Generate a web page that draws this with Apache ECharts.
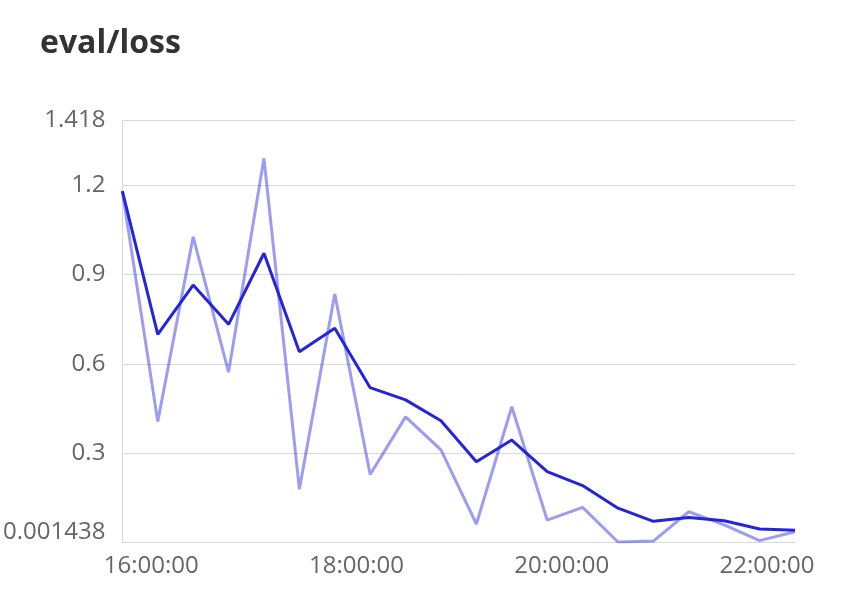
<!DOCTYPE html>
<html>
<head>
<meta charset="utf-8">
<style>
  html, body { margin: 0; padding: 0; background: #fff; }
  #chart { width: 856px; height: 602px; }
</style>
<script src="https://cdn.jsdelivr.net/npm/echarts@6/dist/echarts.min.js"></script>
</head>
<body>
<div id="chart"></div>
<script>
// Wall-clock times of the evaluation steps (UTC, one day)
const times = ['15:43:06','16:03:48','16:24:30','16:45:12','17:05:54','17:26:36','17:47:18',
  '18:08:00','18:28:42','18:49:24','19:10:06','19:30:48','19:51:30','20:12:12','20:32:54',
  '20:53:36','21:14:18','21:35:00','21:55:42','22:16:24'];
// Raw eval/loss values
const rawLoss = [1.181, 0.406, 1.027, 0.572, 1.291, 0.179, 0.835, 0.228, 0.422, 0.311,
  0.062, 0.456, 0.075, 0.118, 0.001438, 0.0045, 0.103, 0.059, 0.006, 0.036];
// Smoothed eval/loss values
const smoothLoss = [1.181, 0.699, 0.865, 0.733, 0.972, 0.641, 0.720, 0.520, 0.479, 0.409,
  0.271, 0.344, 0.238, 0.191, 0.115, 0.071, 0.084, 0.073, 0.045, 0.041];
const yMin = 0.001438;
const yMax = 1.418;
const titleText = 'eval/loss';

function toMs(t) {
  const p = t.split(':').map(Number);
  return Date.UTC(2018, 0, 1, p[0], p[1], p[2]);
}
const xs = times.map(toMs);
const rawData = xs.map((x, i) => [x, rawLoss[i]]);
const smoothData = xs.map((x, i) => [x, smoothLoss[i]]);

const FONT = '"Open Sans", "Noto Sans", sans-serif';
const pad2 = n => (n < 10 ? '0' : '') + n;

const chart = echarts.init(document.getElementById('chart'));
chart.setOption({
  useUTC: true,
  animation: false,
  backgroundColor: '#fff',
  title: {
    text: titleText,
    left: 40,
    top: 28,
    padding: 0,
    textStyle: { fontSize: 32, fontWeight: 'bold', color: '#333', fontFamily: FONT }
  },
  grid: { left: 120, right: 61, top: 120.5, bottom: 60, containLabel: false },
  xAxis: {
    type: 'time',
    min: xs[0],
    max: xs[xs.length - 1],
    minInterval: 3600 * 1000,
    axisLine: { show: true, lineStyle: { color: '#d8d8d8', width: 1 } },
    axisTick: { show: false },
    splitLine: { show: false },
    axisLabel: {
      color: '#666',
      fontSize: 24,
      fontFamily: FONT,
      margin: 12,
      showMinLabel: true,
      showMaxLabel: true,
      hideOverlap: false,
      formatter: function (v) {
        const d = new Date(v);
        if (d.getUTCMinutes() === 0 && d.getUTCSeconds() === 0 && d.getUTCHours() % 2 === 0) {
          return pad2(d.getUTCHours()) + ':00:00';
        }
        return '';
      }
    }
  },
  yAxis: {
    type: 'value',
    min: yMin,
    max: yMax,
    axisLine: { show: true, lineStyle: { color: '#d8d8d8', width: 1 } },
    axisTick: { show: false },
    splitLine: { show: true, lineStyle: { color: '#d8d8d8', width: 1 } },
    axisLabel: {
      color: '#666',
      fontSize: 24,
      fontFamily: FONT,
      margin: 17,
      showMinLabel: true,
      showMaxLabel: true,
      formatter: function (v, idx) {
        const s = String(Number(v.toFixed(6)));
        if (idx === 0) return '{b|' + s + '}';
        return s;
      },
      rich: {
        b: { fontSize: 24, color: '#666', fontFamily: FONT, padding: [0, 0, 20, 0] }
      }
    }
  },
  series: [
    {
      name: 'raw',
      type: 'line',
      data: rawData,
      showSymbol: false,
      symbol: 'none',
      lineStyle: { color: 'rgba(36,36,221,0.45)', width: 3 },
      itemStyle: { color: 'rgba(36,36,221,0.45)' },
      z: 2
    },
    {
      name: 'smoothed',
      type: 'line',
      data: smoothData,
      showSymbol: false,
      symbol: 'none',
      lineStyle: { color: '#2424dd', width: 3 },
      itemStyle: { color: '#2424dd' },
      z: 3
    }
  ]
});
</script>
</body>
</html>
